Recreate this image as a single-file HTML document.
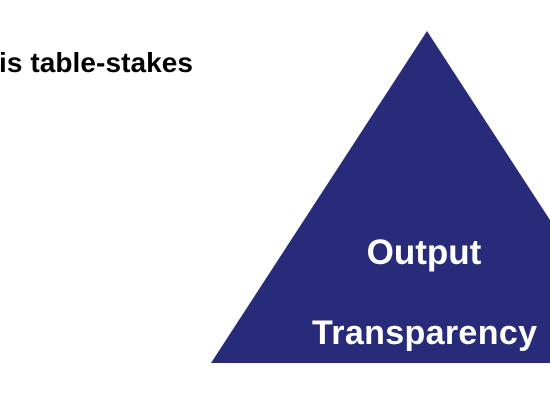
<!DOCTYPE html>
<html><head><meta charset="utf-8"><style>
html,body{margin:0;padding:0;background:#fff;width:550px;height:400px;overflow:hidden}
</style></head><body>
<svg width="550" height="400" xmlns="http://www.w3.org/2000/svg" style="display:block">
<rect width="550" height="400" fill="#fff"/>
<polygon points="427,31 211,363 643,363" fill="#272b7a"/>
<text x="-1" y="72" font-family="Liberation Sans, sans-serif" font-weight="bold" font-size="28" fill="#000" textLength="194">is table-stakes</text>
<text x="424" y="264" text-anchor="middle" font-family="Liberation Sans, sans-serif" font-weight="bold" font-size="35" fill="#fff">Output</text>
<text x="312" y="344" font-family="Liberation Sans, sans-serif" font-weight="bold" font-size="34" fill="#fff" textLength="225">Transparency</text>
</svg>
</body></html>
